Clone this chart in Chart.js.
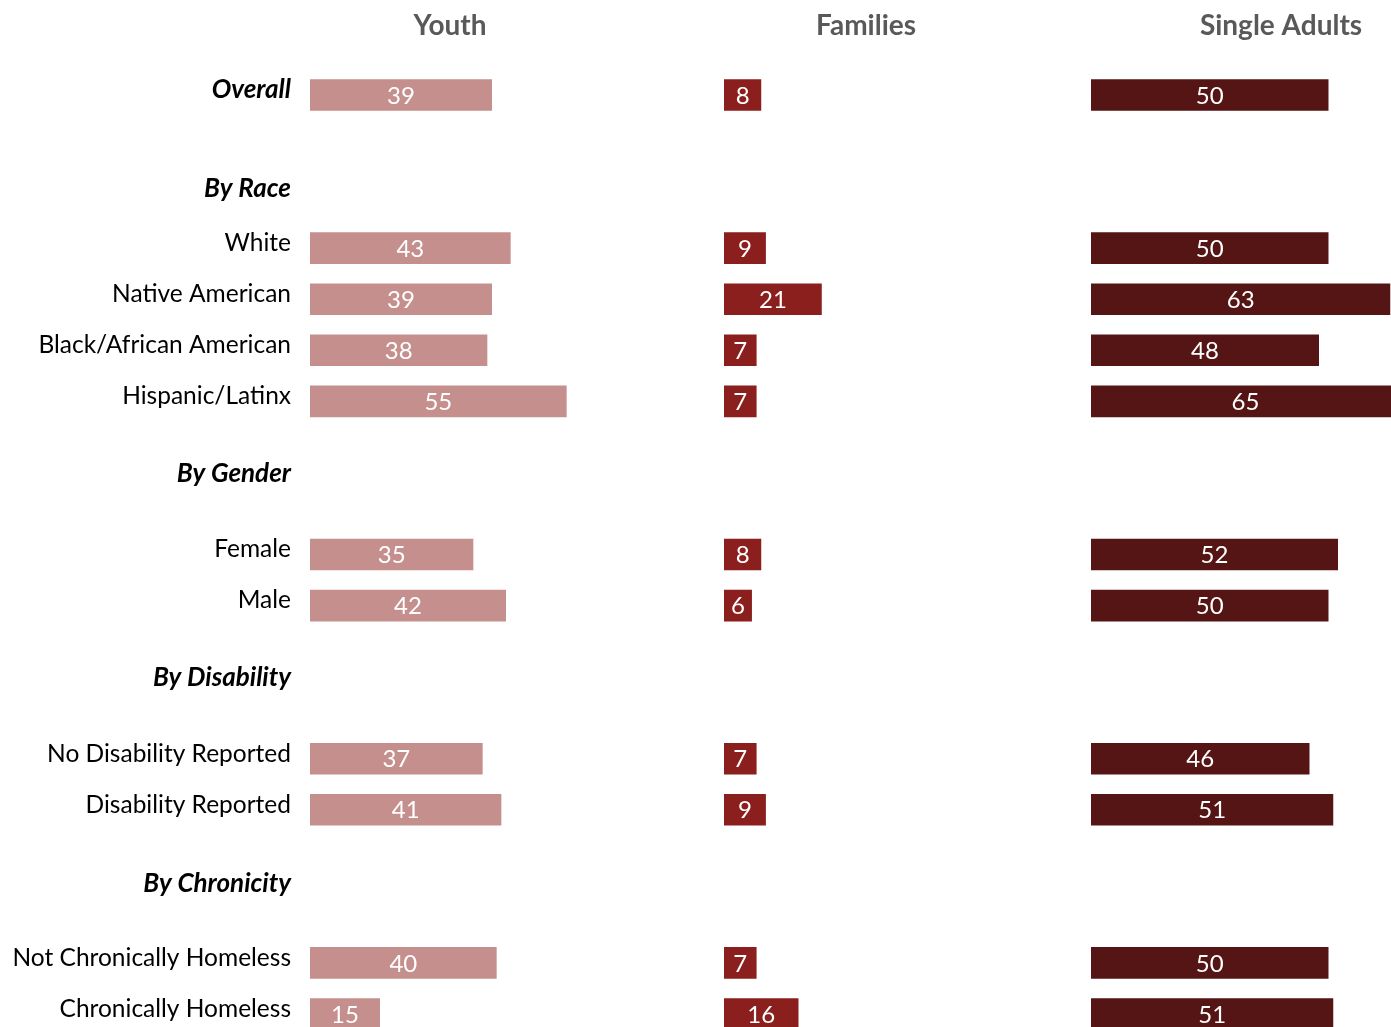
<!DOCTYPE html>
<html>
<head>
<meta charset="utf-8">
<title>Rates by Household Type</title>
<script src="https://cdn.jsdelivr.net/npm/chart.js"></script>
<style>
  html, body { margin: 0; padding: 0; background: #fff; overflow: hidden; }
  #wrap { position: relative; width: 1391px; height: 1027px; overflow: hidden; }
  canvas { position: absolute; top: 0; }
</style>
</head>
<body>
<div id="wrap">
  <canvas id="youth" width="590" height="1080" style="left:0"></canvas>
  <canvas id="families" width="284" height="1080" style="left:724px"></canvas>
  <canvas id="adults" width="380" height="1080" style="left:1091px"></canvas>
</div>
<script>
// rows (blank strings are spacer rows between groups)
const categories = ['Overall', '', '', 'White', 'Native American', 'Black/African American', 'Hispanic/Latinx',
  '', '', 'Female', 'Male', '', '', 'No Disability Reported', 'Disability Reported',
  '', '', 'Not Chronically Homeless', 'Chronically Homeless'];
const youth = [39, null, null, 43, 39, 38, 55, null, null, 35, 42, null, null, 37, 41, null, null, 40, 15];
const families = [8, null, null, 9, 21, 7, 7, null, null, 8, 6, null, null, 7, 9, null, null, 7, 16];
const singleAdults = [50, null, null, 50, 63, 48, 65, null, null, 52, 50, null, null, 46, 51, null, null, 50, 51];
const groupHeaders = ['By Race', 'By Gender', 'By Disability', 'By Chronicity'];
const headerRows = [1.84, 7.42, 11.42, 15.45];

const FONT = 'Lato, "Open Sans", sans-serif';

// panel title centred over the plot area
const panelTitle = {
  id: 'panelTitle',
  afterDraw(chart, args, opts) {
    const { ctx, chartArea } = chart;
    ctx.save();
    ctx.font = 'bold 28px ' + FONT;
    ctx.fillStyle = '#595959';
    ctx.textAlign = 'center';
    ctx.textBaseline = 'middle';
    ctx.fillText(opts.text, (chartArea.left + chartArea.right) / 2, 26);
    ctx.restore();
  }
};

// value written in the middle of each bar
const barValues = {
  id: 'barValues',
  afterDatasetsDraw(chart) {
    const { ctx } = chart;
    ctx.save();
    ctx.font = '24px ' + FONT;
    ctx.fillStyle = '#fff';
    ctx.textAlign = 'center';
    ctx.textBaseline = 'middle';
    chart.getDatasetMeta(0).data.forEach((bar, i) => {
      const v = chart.data.datasets[0].data[i];
      if (v == null) return;
      ctx.fillText(v, (bar.base + bar.x) / 2, bar.y + 1);
    });
    ctx.restore();
  }
};

// italic group headings on the left
const groupLabels = {
  id: 'groupLabels',
  afterDraw(chart) {
    const y = chart.scales.y;
    if (!y.options.display) return;
    const { ctx } = chart;
    ctx.save();
    ctx.font = 'italic bold 26px ' + FONT;
    ctx.fillStyle = '#000';
    ctx.textAlign = 'right';
    ctx.textBaseline = 'middle';
    groupHeaders.forEach((h, i) => ctx.fillText(h, 291, y.getPixelForValue(headerRows[i])));
    ctx.restore();
  }
};

function makeChart(id, title, values, color, max, showLabels) {
  const yAxis = {
    display: showLabels,
    grid: { display: false, drawTicks: false },
    border: { display: false },
    ticks: {
      padding: 19,
      labelOffset: -5,
      color: '#000',
      font: (c) => c.tick && c.tick.label === 'Overall'
        ? { family: FONT, size: 26, style: 'italic', weight: 'bold' }
        : { family: FONT, size: 24.5 }
    }
  };
  if (showLabels) yAxis.afterFit = (s) => { s.width = 310; };

  return new Chart(document.getElementById(id), {
    type: 'bar',
    data: {
      labels: categories,
      datasets: [{ data: values, backgroundColor: color, categoryPercentage: 1, barPercentage: 0.62 }]
    },
    options: {
      indexAxis: 'y',
      responsive: false,
      animation: false,
      layout: { padding: { top: 69.5, bottom: 40.5, left: 0, right: 0 } },
      plugins: {
        legend: { display: false },
        tooltip: { enabled: false },
        panelTitle: { text: title }
      },
      scales: {
        x: { display: false, min: 0, max: max },
        y: yAxis
      }
    },
    plugins: [panelTitle, barValues, groupLabels]
  });
}

makeChart('youth', 'Youth', youth, '#C48F8C', 60, true);
makeChart('families', 'Families', families, '#8A1F1E', 61, false);
makeChart('adults', 'Single Adults', singleAdults, '#551514', 80, false);
</script>
</body>
</html>
